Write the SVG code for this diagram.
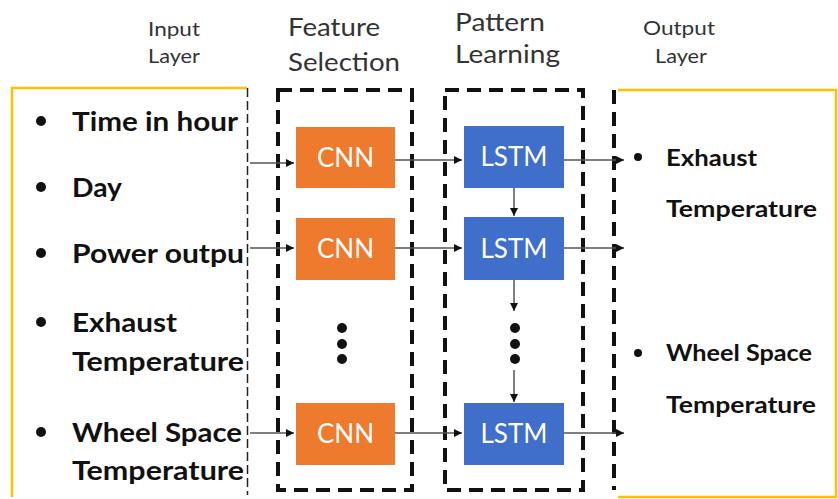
<svg xmlns="http://www.w3.org/2000/svg" width="838" height="499" viewBox="0 0 838 499">
<style>
.hdr{font-family:Lato,"Open Sans",sans-serif;fill:#333}
.item{font-family:Lato,"Open Sans",sans-serif;font-weight:bold;fill:#111}
.box{fill:none;stroke:#111;stroke-width:4;stroke-dasharray:14 8}
.cnn{fill:#EE7A2E}
.lstm{fill:#3F6FCB}
.lbl{font-family:Lato,"Open Sans",sans-serif;font-size:26px;fill:#fff;text-anchor:middle}
.conn line{stroke:#555;stroke-width:1.5}
.yel{fill:none;stroke:#FFC000;stroke-width:2.5}
</style>
<defs>
<marker id="ah" viewBox="0 0 10 10" refX="10" refY="5" markerWidth="8" markerHeight="8" markerUnits="userSpaceOnUse" orient="auto">
<path d="M0,0 L10,5 L0,10 z" fill="#111"/>
</marker>
</defs>
<rect width="838" height="499" fill="#fff"/>
<!-- headers -->
<g id="headers">
<text class="hdr" x="148" y="36" font-size="19" textLength="52" lengthAdjust="spacingAndGlyphs">Input</text>
<text class="hdr" x="148" y="63" font-size="19" textLength="52" lengthAdjust="spacingAndGlyphs">Layer</text>
<text class="hdr" x="288" y="36" font-size="25" textLength="92" lengthAdjust="spacingAndGlyphs">Feature</text>
<text class="hdr" x="288" y="71" font-size="25" textLength="112" lengthAdjust="spacingAndGlyphs">Selection</text>
<text class="hdr" x="455" y="31" font-size="25" textLength="90" lengthAdjust="spacingAndGlyphs">Pattern</text>
<text class="hdr" x="455" y="63" font-size="25" textLength="105" lengthAdjust="spacingAndGlyphs">Learning</text>
<text class="hdr" x="643" y="35" font-size="19" textLength="72" lengthAdjust="spacingAndGlyphs">Output</text>
<text class="hdr" x="655" y="63" font-size="19" textLength="52" lengthAdjust="spacingAndGlyphs">Layer</text>
</g>
<!-- input layer -->
<g id="input-layer">
<path class="yel" d="M12,497 V88 H247"/>
<line x1="247.5" y1="88" x2="247.5" y2="495" stroke="#222" stroke-width="1.5" stroke-dasharray="9 4"/>
<g fill="#111">
<circle cx="41" cy="121" r="5"/>
<circle cx="41" cy="187" r="5"/>
<circle cx="41" cy="253" r="5"/>
<circle cx="41" cy="322" r="5"/>
<circle cx="41" cy="432" r="5"/>
</g>
<text class="item" x="72" y="131" font-size="26" textLength="166" lengthAdjust="spacingAndGlyphs">Time in hour</text>
<text class="item" x="72" y="197" font-size="26" textLength="50" lengthAdjust="spacingAndGlyphs">Day</text>
<text class="item" x="72" y="263" font-size="26" textLength="172" lengthAdjust="spacingAndGlyphs">Power outpu</text>
<text class="item" x="72" y="332" font-size="26" textLength="105" lengthAdjust="spacingAndGlyphs">Exhaust</text>
<text class="item" x="72" y="371" font-size="26" textLength="172" lengthAdjust="spacingAndGlyphs">Temperature</text>
<text class="item" x="72" y="442" font-size="26" textLength="170" lengthAdjust="spacingAndGlyphs">Wheel Space</text>
<text class="item" x="72" y="480" font-size="26" textLength="172" lengthAdjust="spacingAndGlyphs">Temperature</text>
</g>
<!-- feature selection -->
<g id="feature-selection">
<rect class="box" x="278" y="90" width="134" height="400"/>
<g id="cnn1"><rect class="cnn" x="296" y="127" width="99" height="61"/><text class="lbl" x="345.5" y="167">CNN</text></g>
<g id="cnn2"><rect class="cnn" x="296" y="218" width="99" height="62"/><text class="lbl" x="345.5" y="258">CNN</text></g>
<g id="cnn3"><rect class="cnn" x="296" y="403" width="99" height="62"/><text class="lbl" x="345.5" y="443">CNN</text></g>
<g fill="#111"><circle cx="342" cy="328" r="5"/><circle cx="342" cy="344" r="5"/><circle cx="342" cy="359" r="5"/></g>
</g>
<!-- pattern learning -->
<g id="pattern-learning">
<rect class="box" x="445" y="90" width="138" height="400"/>
<g id="lstm1"><rect class="lstm" x="464" y="126" width="100" height="62"/><text class="lbl" x="514" y="166">LSTM</text></g>
<g id="lstm2"><rect class="lstm" x="464" y="217" width="100" height="63"/><text class="lbl" x="514" y="258">LSTM</text></g>
<g id="lstm3"><rect class="lstm" x="464" y="403" width="100" height="62"/><text class="lbl" x="514" y="443">LSTM</text></g>
<g fill="#111"><circle cx="515" cy="328" r="5"/><circle cx="515" cy="344" r="5"/><circle cx="515" cy="359" r="5"/></g>
</g>
<!-- output layer -->
<g id="output-layer">
<line x1="614" y1="90" x2="614" y2="490" stroke="#111" stroke-width="4" stroke-dasharray="14 8"/>
<path class="yel" d="M618,90 H836 V497 H618"/>
<g fill="#111"><circle cx="638" cy="157" r="4"/><circle cx="638" cy="353" r="4"/></g>
<text class="item" x="666" y="166" font-size="23" textLength="91" lengthAdjust="spacingAndGlyphs">Exhaust</text>
<text class="item" x="666" y="217" font-size="23" textLength="151" lengthAdjust="spacingAndGlyphs">Temperature</text>
<text class="item" x="666" y="361" font-size="23" textLength="146" lengthAdjust="spacingAndGlyphs">Wheel Space</text>
<text class="item" x="666" y="413" font-size="23" textLength="150" lengthAdjust="spacingAndGlyphs">Temperature</text>
</g>
<!-- connectors -->
<g id="connectors" class="conn">
<line x1="250" y1="163" x2="294" y2="163" marker-end="url(#ah)"/>
<line x1="250" y1="248" x2="294" y2="248" marker-end="url(#ah)"/>
<line x1="250" y1="433" x2="294" y2="433" marker-end="url(#ah)"/>
<line x1="395" y1="160" x2="462" y2="160" marker-end="url(#ah)"/>
<line x1="395" y1="248" x2="462" y2="248" marker-end="url(#ah)"/>
<line x1="395" y1="433" x2="462" y2="433" marker-end="url(#ah)"/>
<line x1="564" y1="160" x2="624" y2="160" marker-end="url(#ah)"/>
<line x1="564" y1="248" x2="624" y2="248" marker-end="url(#ah)"/>
<line x1="564" y1="433" x2="624" y2="433" marker-end="url(#ah)"/>
<line x1="514" y1="188" x2="514" y2="216" marker-end="url(#ah)"/>
<line x1="514" y1="280" x2="514" y2="311" marker-end="url(#ah)"/>
<line x1="514" y1="370" x2="514" y2="402" marker-end="url(#ah)"/>
</g>
</svg>
